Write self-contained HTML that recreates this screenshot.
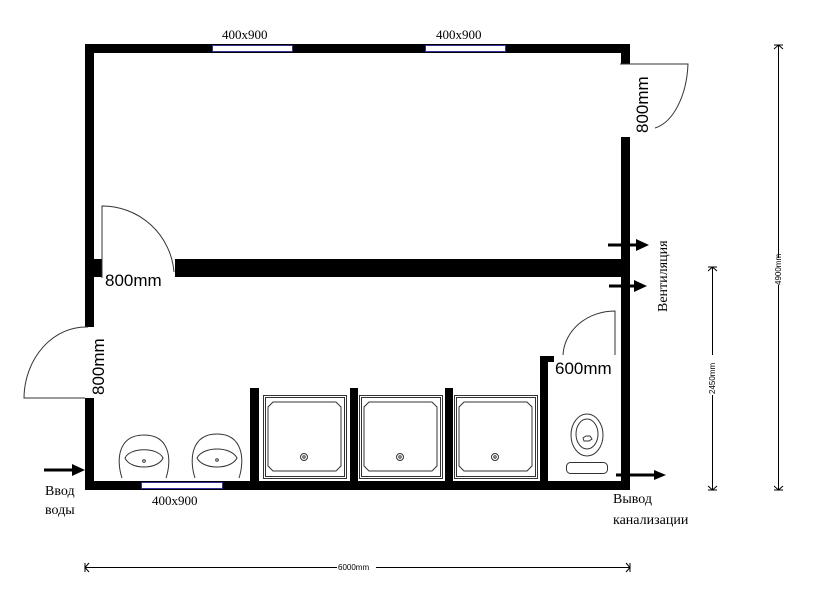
<!DOCTYPE html>
<html><head><meta charset="utf-8"><style>
html,body{margin:0;padding:0;background:#fff;}
svg{display:block;}
.a{font-family:"Liberation Sans",Arial,sans-serif;font-size:17px;fill:#000;}
.s{font-family:"Liberation Serif","DejaVu Serif",serif;font-size:14px;fill:#000;}
.w{font-family:"Liberation Serif",serif;font-size:13px;fill:#000;}
.d{font-family:"Liberation Sans",sans-serif;font-size:8px;fill:#000;}
</style></head><body>
<svg width="826" height="593" viewBox="0 0 826 593" xmlns="http://www.w3.org/2000/svg">
<rect width="826" height="593" fill="#fff"/>
<g fill="#000">
<rect x="85" y="44" width="545" height="9"/>
<rect x="85" y="44" width="9" height="283"/>
<rect x="85" y="398" width="9" height="92"/>
<rect x="85" y="481" width="545" height="9"/>
<rect x="621" y="44" width="9" height="20"/>
<rect x="621" y="137" width="9" height="353"/>
<rect x="94" y="259" width="8" height="18"/>
<rect x="175" y="259" width="446" height="18"/>
<rect x="250" y="388" width="9" height="93"/>
<rect x="350" y="388" width="8" height="93"/>
<rect x="445" y="388" width="8" height="93"/>
<rect x="540" y="356" width="8" height="125"/>
<rect x="540" y="356" width="14" height="6"/>
</g>
<!-- windows -->
<g fill="#fff" stroke="#33339a" stroke-width="1">
<rect x="212.5" y="45.5" width="80" height="6"/>
<rect x="425.5" y="45.5" width="80" height="6"/>
<rect x="141.5" y="482.5" width="81" height="6"/>
</g>
<text class="w" x="222" y="39">400x900</text>
<text class="w" x="436" y="39">400x900</text>
<text class="w" x="152" y="505">400x900</text>
<!-- doors -->
<g fill="none" stroke="#333" stroke-width="1">
<path d="M102 278 V206 A72 72 0 0 1 174 272"/>
<path d="M85 398 H24 A62 72 0 0 1 88 327"/>
<path d="M620 64 H688 A40 70 0 0 1 655 128"/>
<path d="M615 355 V311 A52 46 0 0 0 563 355"/>
</g>
<text class="a" x="105" y="286">800mm</text>
<text class="a" transform="translate(104,395) rotate(-90)">800mm</text>
<text class="a" transform="translate(648,133) rotate(-90)">800mm</text>
<text class="a" x="555" y="374">600mm</text>
<!-- showers -->
<g fill="none" stroke="#333" stroke-width="1">
<rect x="263.5" y="395.5" width="83" height="83"/>
<rect x="265.5" y="397.5" width="79" height="79"/>
<path d="M273 402 H336 L341 407 V466 L336 471 H273 L268 466 V407 Z"/>
<circle cx="304" cy="457" r="3.5"/><circle cx="304" cy="457" r="1.2"/>
<rect x="359.5" y="395.5" width="83" height="83"/>
<rect x="361.5" y="397.5" width="79" height="79"/>
<path d="M369 402 H432 L437 407 V466 L432 471 H369 L364 466 V407 Z"/>
<circle cx="400" cy="457" r="3.5"/><circle cx="400" cy="457" r="1.2"/>
<rect x="454.5" y="395.5" width="83" height="83"/>
<rect x="456.5" y="397.5" width="79" height="79"/>
<path d="M464 402 H527 L532 407 V466 L527 471 H464 L459 466 V407 Z"/>
<circle cx="495" cy="457" r="3.5"/><circle cx="495" cy="457" r="1.2"/>
<!-- sinks -->
<path d="M122 478 C116 460 118 435 144 435 C170 435 172 460 166 478"/>
<path d="M125 458 C130 447 158 447 163 458 C158 470 130 470 125 458 Z"/>
<circle cx="144" cy="461" r="1.3"/>
<path d="M195 478 C189 460 191 434 217 434 C243 434 245 460 239 478"/>
<path d="M197 458 C203 446 231 446 237 458 C231 470 203 470 197 458 Z"/>
<circle cx="217" cy="460" r="1.3"/>
<!-- toilet -->
<ellipse cx="587" cy="435" rx="16" ry="21"/>
<ellipse cx="587" cy="434" rx="11" ry="15"/>
<path d="M583 438 L586 436 L590 436 L592 439 L589 441 L584 441 Z"/>
<rect x="566.5" y="462.5" width="41" height="11" rx="4"/>
</g>
<!-- arrows -->
<g stroke="#000" stroke-width="3">
<line x1="608" y1="245" x2="640" y2="245"/>
<line x1="609" y1="286" x2="638" y2="286"/>
<line x1="44" y1="470" x2="74" y2="470"/>
<line x1="616" y1="475" x2="656" y2="475"/>
</g>
<g fill="#000">
<path d="M636 239 L649 245 L636 251 Z"/>
<path d="M634 280 L647 286 L634 292 Z"/>
<path d="M72 464 L85 470 L72 476 Z"/>
<path d="M654 470 L666 475 L654 480 Z"/>
</g>
<text class="s" transform="translate(667,312) rotate(-90)">Вентиляция</text>
<text class="s" x="45" y="495">Ввод</text>
<text class="s" x="45" y="514">воды</text>
<text class="s" x="613" y="503">Вывод</text>
<text class="s" x="613" y="524">канализации</text>
<!-- dimensions -->
<g stroke="#000" stroke-width="1" fill="none">
<line x1="778.5" y1="45" x2="778.5" y2="258"/><line x1="778.5" y1="285" x2="778.5" y2="490"/>
<path d="M774 49 L778.5 45 L783 49 M774 45 H783 M774 486 L778.5 490 L783 486 M774 490 H783"/>
<line x1="712.5" y1="267" x2="712.5" y2="355"/><line x1="712.5" y1="395" x2="712.5" y2="490"/>
<path d="M708 271 L712.5 267 L717 271 M708 267 H717 M708 486 L712.5 490 L717 486 M708 490 H717"/>
<line x1="85" y1="567.5" x2="337" y2="567.5"/><line x1="376" y1="567.5" x2="630" y2="567.5"/>
<path d="M89 563 L85 567.5 L89 572 M85 563 V572 M626 563 L630 567.5 L626 572 M630 563 V572"/>
</g>
<text class="d" transform="translate(781,285) rotate(-90)">4900mm</text>
<text class="d" transform="translate(715,394) rotate(-90)">2450mm</text>
<text class="d" x="338" y="570">6000mm</text>
</svg>
</body></html>
